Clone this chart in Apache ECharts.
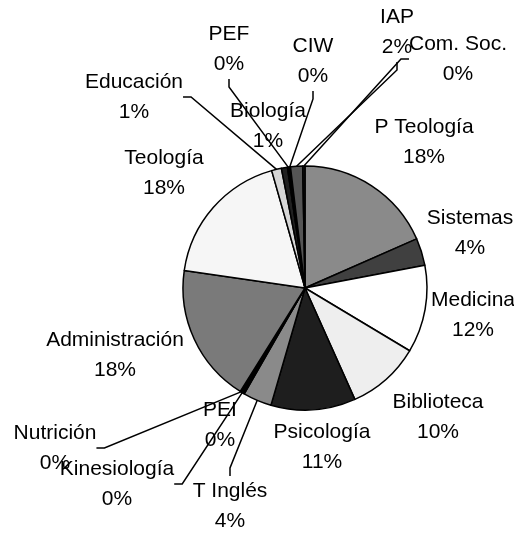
<!DOCTYPE html>
<html>
<head>
<meta charset="utf-8">
<script src="https://cdn.jsdelivr.net/npm/echarts@6/dist/echarts.min.js"></script>
<style>
  html, body { margin: 0; padding: 0; background: #fff; }
  #chart { width: 514px; height: 534px; }
</style>
</head>
<body>
<div id="chart"></div>
<script>
// ---- data ----
var categories = ['P Teología', 'Sistemas', 'Medicina', 'Biblioteca', 'Psicología', 'T Inglés',
  'PEI', 'Kinesiología', 'Nutrición', 'Administración', 'Teología', 'Educación', 'Biología',
  'PEF', 'CIW', 'IAP', 'Com. Soc.'];
var shares = [18.4, 3.6, 11.6, 9.7, 11.2, 3.8, 0.2, 0.2, 0.2, 18.4, 18.3, 1.3, 0.8, 0.2, 0.2, 1.6, 0.3];

// ---- styles / layout (not data) ----
var sliceColors = ['#8a8a8a', '#404040', '#ffffff', '#eeeeee', '#1e1e1e', '#8a8a8a',
  '#cccccc', '#1e1e1e', '#555555', '#7a7a7a', '#f6f6f6', '#d6d6d6', '#202020',
  '#ffffff', '#000000', '#555555', '#111111'];
var showLine = [false, false, false, false, false, true, false, true, true, false, false, true, false,
  true, true, true, true];
var labelPos = [
  [424, 142], [470, 233], [473, 315], [438, 417], [322, 447], [230, 506],
  [220, 425], [117, 484], [55, 448], [115, 355], [164, 173], [134, 97], [268, 126],
  [229, 49], [313, 61], [397, 32], [458, 59]
];

var pieData = categories.map(function (c, i) {
  return {
    name: c,
    value: shares[i],
    itemStyle: { color: sliceColors[i] },
    labelLine: { show: showLine[i] }
  };
});

var chart = echarts.init(document.getElementById('chart'), null, { renderer: 'canvas' });
chart.setOption({
  backgroundColor: '#ffffff',
  animation: false,
  series: [{
    type: 'pie',
    center: [305, 288],
    radius: 122,
    startAngle: 90,
    clockwise: true,
    avoidLabelOverlap: false,
    data: pieData,
    itemStyle: { borderColor: '#000', borderWidth: 1.5 },
    label: {
      show: true,
      position: 'outside',
      color: '#000',
      fontFamily: 'Liberation Sans, Arial, sans-serif',
      fontSize: 21,
      lineHeight: 30,
      align: 'center',
      formatter: function (p) {
        return p.name + '\n' + Math.round(p.percent) + '%';
      }
    },
    labelLine: {
      show: true,
      length: 10,
      length2: 8,
      lineStyle: { color: '#000', width: 1.5 }
    },
    labelLayout: function (p) {
      var pos = labelPos[p.dataIndex];
      return { x: pos[0], y: pos[1], align: 'center', verticalAlign: 'middle' };
    }
  }]
});
</script>
</body>
</html>
